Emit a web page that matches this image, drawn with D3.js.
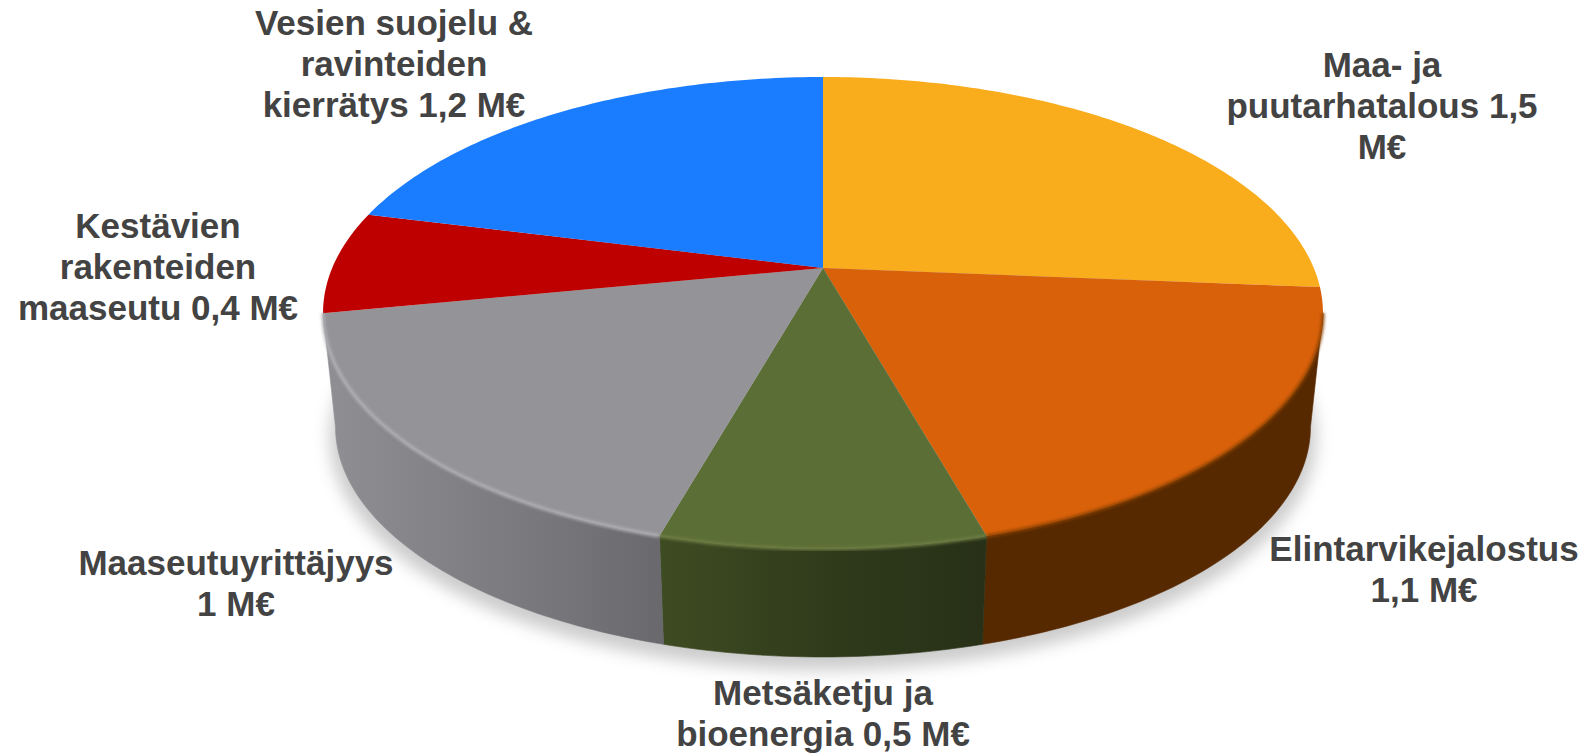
<!DOCTYPE html>
<html lang="fi">
<head>
<meta charset="utf-8">
<title>Rahoitus teemoittain</title>
<script src="https://cdn.jsdelivr.net/npm/d3@7"></script>
<style>
  html, body { margin: 0; padding: 0; background: #ffffff; overflow: hidden; }
  svg { display: block; }
  text { font-family: "Liberation Sans", Arial, sans-serif; font-weight: bold; fill: #434343; }
</style>
</head>
<body>
<div id="chart"></div>
<script>
// Slices, clockwise from 12 o'clock
const categories = ["Maa- ja puutarhatalous", "Elintarvikejalostus", "Metsäketju ja bioenergia", "Maaseutuyrittäjyys", "Kestävien rakenteiden maaseutu", "Vesien suojelu & ravinteiden kierrätys"];
const values = [1.5, 1.1, 0.5, 1, 0.4, 1.2];
const labelLines = [
  ["Maa- ja", "puutarhatalous 1,5", "M€"],
  ["Elintarvikejalostus", "1,1 M€"],
  ["Metsäketju ja", "bioenergia 0,5 M€"],
  ["Maaseutuyrittäjyys", "1 M€"],
  ["Kestävien", "rakenteiden", "maaseutu 0,4 M€"],
  ["Vesien suojelu &", "ravinteiden", "kierrätys 1,2 M€"]
];

const width = 1590;
const height = 754;

// Label centres: x and first baseline
const labelPos = [
  { x: 1382, y: 77 },
  { x: 1424, y: 561 },
  { x: 823, y: 705 },
  { x: 236, y: 575 },
  { x: 158, y: 238 },
  { x: 394, y: 35 }
];
const lineGap = 41;
const fontSize = 35;

const topColors = ["#f9ac1c", "#d9610a", "#5b6e35", "#949498", "#be0000", "#1a7cff"];
const rimColors = [null, "#8f4303", "#6f7f45", "#b4b4b8", null, null];

// Perspective of the tilted disc
const disc = { cx: 823, cy: 268, rx: 490.8, ry: 227.4, k: 0.1907 };
const base = { cy: 383, scale: 0.975 };
// front part of the rim that can be seen, between the two silhouette points
const frontFrom = Math.PI - Math.acos(disc.k);
const frontTo = Math.PI + Math.acos(disc.k);

function project(angle, r = 1, level = { cy: disc.cy, scale: 1 }) {
  const u = r * Math.sin(angle);
  const v = r * Math.cos(angle);
  const w = 1 + disc.k * v;
  return [
    disc.cx + level.scale * disc.rx * u / w,
    level.cy - level.scale * disc.ry * v / w
  ];
}

function arcPoints(a0, a1, level) {
  const n = Math.max(2, Math.ceil((a1 - a0) * 60));
  return d3.range(n + 1).map(i => project(a0 + (a1 - a0) * i / n, 1, level));
}

const line = d3.line();

const arcs = d3.pie().sort(null).value(d => d)(values);

const svg = d3.select("#chart").append("svg")
  .attr("width", width)
  .attr("height", height)
  .attr("viewBox", `0 0 ${width} ${height}`);

const defs = svg.append("defs");

defs.append("filter").attr("id", "shadowBlur")
  .attr("x", "-10%").attr("y", "-20%").attr("width", "120%").attr("height", "140%")
  .append("feGaussianBlur").attr("stdDeviation", 8);

defs.append("filter").attr("id", "rimBlur")
  .attr("x", "-10%").attr("y", "-10%").attr("width", "120%").attr("height", "120%")
  .append("feGaussianBlur").attr("stdDeviation", 1.5);

function sideGradient(id, x1, x2, stops) {
  const g = defs.append("linearGradient").attr("id", id)
    .attr("gradientUnits", "userSpaceOnUse")
    .attr("x1", x1).attr("x2", x2).attr("y1", 0).attr("y2", 0);
  stops.forEach(s => g.append("stop").attr("offset", s[0]).attr("stop-color", s[1]));
}

sideGradient("sideGrey", 323, 664, [[0, "#8f8f94"], [0.45, "#7e7e83"], [0.65, "#77777c"], [1, "#68686d"]]);
sideGradient("sideGreen", 660, 982, [[0, "#3e4c22"], [0.55, "#2f3a1b"], [1, "#283117"]]);

const sideFills = [null, "#572900", "url(#sideGreen)", "url(#sideGrey)", null, null];

// Soft shadow under the disc
svg.append("path")
  .attr("d", line(arcPoints(0, 2 * Math.PI, { cy: base.cy + 10, scale: base.scale * 1.012 })) + "Z")
  .attr("fill", "#000000")
  .attr("fill-opacity", 0.2)
  .attr("filter", "url(#shadowBlur)");

// Side wall, only the slices that face the viewer
const sideArcs = arcs
  .map((d, i) => ({
    i,
    a0: Math.max(d.startAngle, frontFrom),
    a1: Math.min(d.endAngle, frontTo)
  }))
  .filter(d => d.a1 > d.a0 && sideFills[d.i]);

svg.append("g").attr("class", "sides")
  .selectAll("path")
  .data(sideArcs)
  .join("path")
  .attr("d", d => line(arcPoints(d.a0, d.a1).concat(arcPoints(d.a0, d.a1, base).reverse())) + "Z")
  .attr("fill", d => sideFills[d.i])
  .attr("stroke", d => sideFills[d.i])
  .attr("stroke-width", 0.6);

// Top face
svg.append("g").attr("class", "slices")
  .selectAll("path")
  .data(arcs)
  .join("path")
  .attr("d", d => line([project(0, 0)].concat(arcPoints(d.startAngle, d.endAngle))) + "Z")
  .attr("fill", (d, i) => topColors[i]);

// Bevel along the front edge, kept inside the visible wall
svg.append("g").attr("class", "rims")
  .selectAll("path")
  .data(arcs.map((d, i) => ({ d, i })).filter(e => rimColors[e.i]))
  .join("path")
  .attr("d", e => line(arcPoints(Math.max(e.d.startAngle, frontFrom), Math.min(e.d.endAngle, frontTo))))
  .attr("fill", "none")
  .attr("stroke", e => rimColors[e.i])
  .attr("stroke-width", 3)
  .attr("filter", "url(#rimBlur)");

// Labels
const labels = svg.append("g").attr("class", "labels")
  .selectAll("text")
  .data(labelLines)
  .join("text")
  .attr("text-anchor", "middle")
  .style("font-size", `${fontSize}px`);

labels.selectAll("tspan")
  .data((d, i) => d.map((t, j) => ({ t, j, pos: labelPos[i] })))
  .join("tspan")
  .attr("x", d => d.pos.x)
  .attr("y", d => d.pos.y + d.j * lineGap)
  .text(d => d.t);
</script>
</body>
</html>
